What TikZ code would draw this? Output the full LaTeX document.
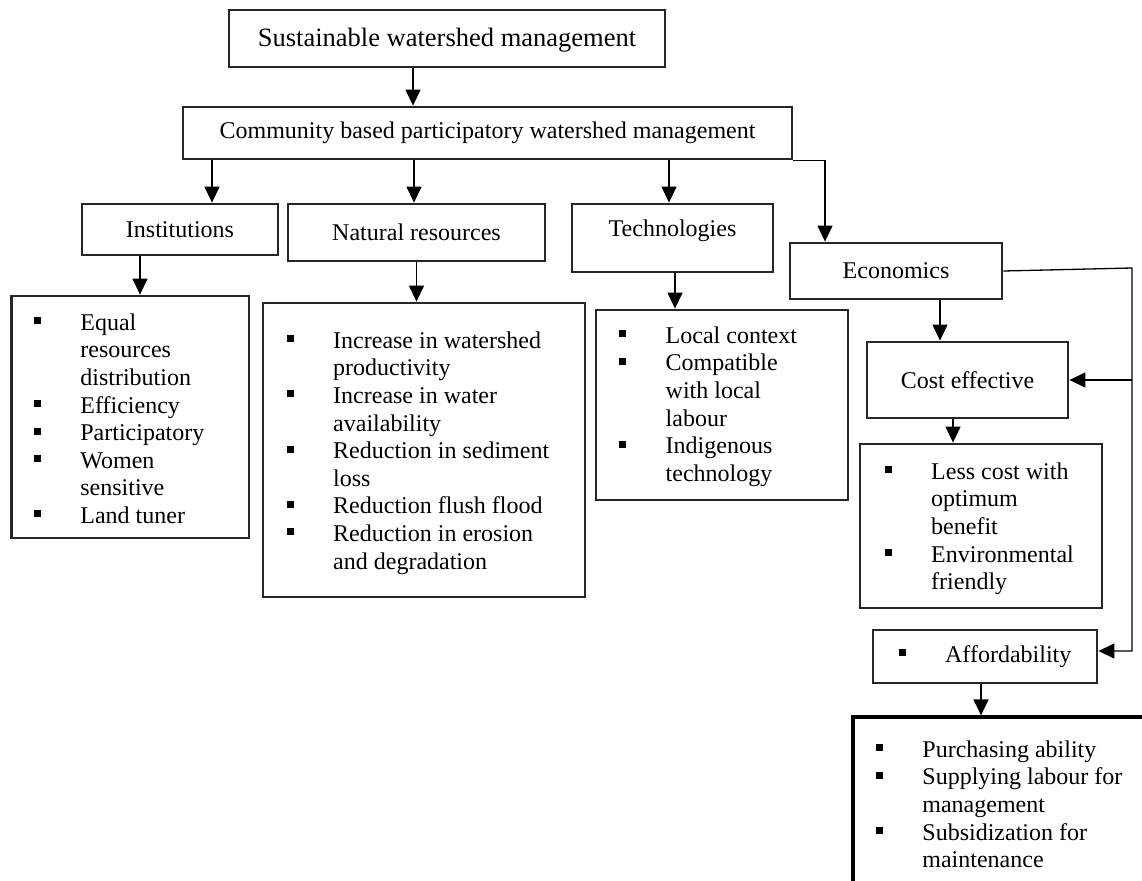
\documentclass[tikz,border=0pt]{standalone}
\usepackage{fontspec}
\setmainfont{Liberation Serif}
\usetikzlibrary{arrows.meta}
\newcommand\bul{\raisebox{6pt}{\rule{7pt}{7pt}}}
\newcommand\bcol{\makebox[46.5pt][l]{\bul}}
\begin{document}
\begin{tikzpicture}[x=1pt,y=-1pt,
  box/.style={draw=black!85, line width=2.8pt, inner sep=0pt, align=center, font=\fontsize{24}{27.6}\selectfont},
  lst/.style={inner sep=0pt, anchor=north west, font=\fontsize{24}{27.6}\selectfont},
  arr/.style={line width=1.3pt, -{Triangle[length=16pt,width=15pt]}},
  conn/.style={line width=1.3pt}]
\useasboundingbox (0,0) rectangle (1142,880);
\clip (0,0) rectangle (1142,880);
\fill[white] (0,0) rectangle (1142,880);

% boxes
\node[box, minimum width=436pt, minimum height=57pt, text height=21pt, font=\fontsize{26.5}{30}\selectfont] (sus) at (447,38.5) {Sustainable watershed management};
\node[box, minimum width=609pt, minimum height=52pt] (com) at (487.5,133) {Community based participatory watershed management};
\node[box, minimum width=196pt, minimum height=51pt] (inst) at (180,229.5) {Institutions};
\node[box, minimum width=257pt, minimum height=57pt] (nat) at (416.5,232.5) {Natural resources};
\node[box, minimum width=201pt, minimum height=68pt, text depth=19pt] (tech) at (672.5,238) {Technologies};
\node[box, minimum width=212pt, minimum height=56pt] (econ) at (896,271) {Economics};
\node[box, minimum width=237.5pt, minimum height=242pt] (instl) at (130.25,417) {};
\node[box, minimum width=322pt, minimum height=294pt] (natl) at (424,450) {};
\node[box, minimum width=252pt, minimum height=190pt] (techl) at (722,405) {};
\node[box, minimum width=201pt, minimum height=76pt] (cost) at (967.5,380) {Cost effective};
\node[box, minimum width=242pt, minimum height=164pt] (costl) at (981,526) {};
\node[box, minimum width=224pt, minimum height=53pt] (aff) at (985,656.5) {\bcol Affordability};
\node[box, draw=black, line width=3.2pt, minimum width=347pt, minimum height=223pt] (affl) at (1026.5,828.5) {};

% list texts
\node[lst] (instt) at (33.7,310.7) {\begin{tabular}{@{}l@{}l@{}}
\bcol & Equal\\ & resources\\ & distribution\\ \bul & Efficiency\\ \bul & Participatory\\ \bul & Women\\ & sensitive\\ \bul & Land tuner
\end{tabular}};
\node[lst] (natt) at (286.5,328.7) {\begin{tabular}{@{}l@{}l@{}}
\bcol & Increase in watershed\\ & productivity\\ \bul & Increase in water\\ & availability\\ \bul & Reduction in sediment\\ & loss\\ \bul & Reduction flush flood\\ \bul & Reduction in erosion\\ & and degradation
\end{tabular}};
\node[lst] (techt) at (619,323.7) {\begin{tabular}{@{}l@{}l@{}}
\bcol & Local context\\ \bul & Compatible\\ & with local\\ & labour\\ \bul & Indigenous\\ & technology
\end{tabular}};
\node[lst] (costt) at (884.5,459.7) {\begin{tabular}{@{}l@{}l@{}}
\bcol & Less cost with\\ & optimum\\ & benefit\\ \bul & Environmental\\ & friendly
\end{tabular}};
\node[lst] (afft) at (875.7,737.7) {\begin{tabular}{@{}l@{}l@{}}
\bcol & Purchasing ability\\ \bul & Supplying labour for\\ & management\\ \bul & Subsidization for\\ & maintenance
\end{tabular}};

% connectors
\draw[arr] ([xshift=-34pt]sus.south) -- ([xshift=-34pt]sus.south |- com.north);
\draw[arr] ([xshift=32pt]inst.north |- com.south) -- ([xshift=32pt]inst.north);
\draw[arr] ([xshift=-2.5pt]nat.north |- com.south) -- ([xshift=-2.5pt]nat.north);
\draw[arr] ([xshift=-3.5pt]tech.north |- com.south) -- ([xshift=-3.5pt]tech.north);
\draw[arr] (com.south east) -| ([xshift=-71pt]econ.north);
\draw[arr] ([xshift=-40pt]inst.south) -- ([xshift=-40pt]inst.south |- instl.north);
\draw[arr] (nat.south) -- (nat.south |- natl.north);
\draw[arr] ([xshift=2.5pt]tech.south) -- ([xshift=2.5pt]tech.south |- techl.north);
\draw[arr] ([xshift=44pt]econ.south) -- ([xshift=44pt]econ.south |- cost.north);
\draw[arr] ([xshift=-14.5pt]cost.south) -- ([xshift=-14.5pt]cost.south |- costl.north);
\draw[arr] ([xshift=-4pt]aff.south) -- ([xshift=-4pt]aff.south |- affl.north);
\coordinate (rt) at (1132,268);
\coordinate (affin) at ([yshift=5.5pt]aff.east);
\draw[arr] (econ.east) -- (rt) |- (affin);
\draw[arr] (rt |- cost.east) -- (cost.east);
\end{tikzpicture}
\end{document}
